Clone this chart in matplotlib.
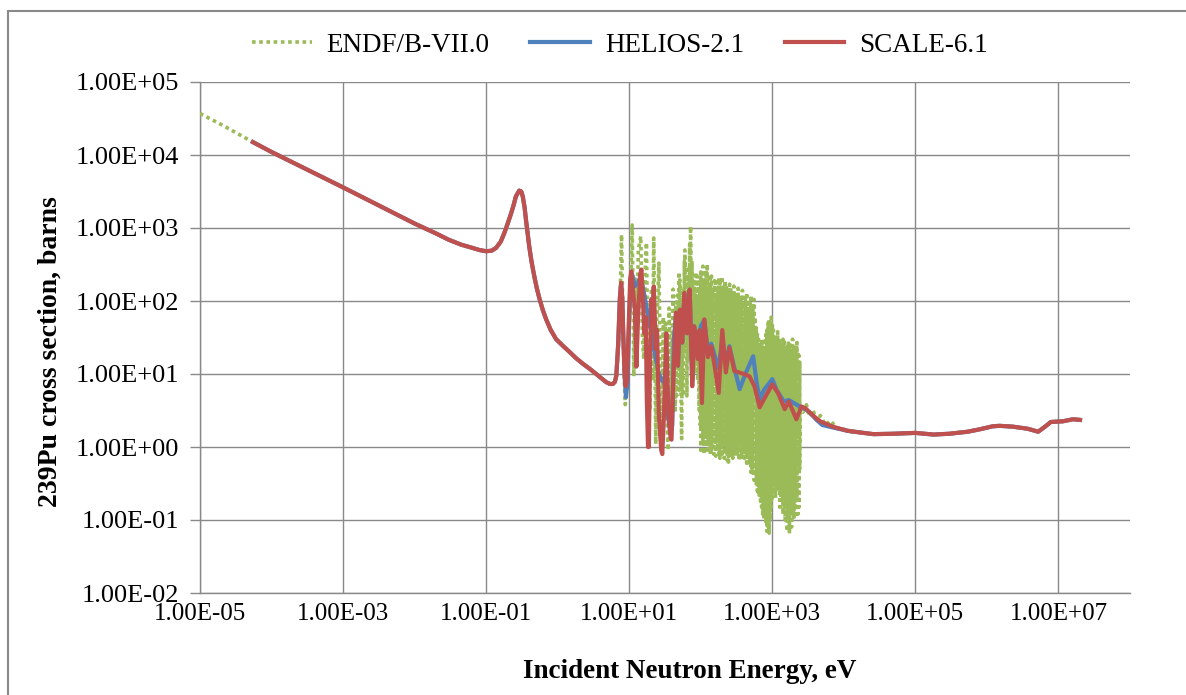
import numpy as np
import matplotlib.pyplot as plt
from matplotlib.patches import Rectangle
from matplotlib.ticker import FixedLocator, FuncFormatter, NullLocator

plt.rcParams['font.family'] = ['Liberation Serif', 'DejaVu Serif']

# ---- data: (energy eV, cross section barns) ----
# smooth thermal part shared by all three libraries
thermal = [(5.5e-5, 15000), (1e-4, 11000), (1e-3, 3600), (1e-2, 1150), (0.02, 840),
           (0.03, 690), (0.045, 590), (0.058, 550), (0.08, 500), (0.1, 480),
           (0.12, 490), (0.138, 535), (0.16, 650), (0.18, 860), (0.2, 1150),
           (0.224, 1600), (0.245, 2150), (0.26, 2700), (0.29, 3250), (0.31, 3150),
           (0.325, 2700), (0.345, 1900), (0.36, 1300), (0.38, 850), (0.40, 560),
           (0.43, 350), (0.47, 220), (0.51, 150), (0.56, 105), (0.62, 75),
           (0.69, 56), (0.8, 40), (0.95, 30), (1.2, 24), (1.47, 20), (1.8, 16.5),
           (2.25, 13.8), (2.8, 11.8), (3.45, 10), (4.1, 8.7), (4.8, 7.7),
           (5.4, 7.3), (5.9, 7.3), (6.3, 7.8), (6.6, 9.5)]

endf_low = [(1e-5, 37000), (2e-5, 26000)]

endf_resolved = [(7.3, 40), (7.8, 810), (8.4, 12), (8.8, 3.8), (9.5, 25), (10.2, 60),
                 (11.0, 1100), (11.6, 9.3), (12.2, 200), (12.8, 40), (13.4, 500),
                 (14.5, 770), (15.3, 30), (16, 16), (16.8, 300), (17.4, 630),
                 (18.3, 10), (19.5, 3.2), (20.5, 150), (21.2, 8), (22, 730),
                 (22.8, 20), (23.5, 1.1), (24.3, 60), (25, 100), (26, 330),
                 (27.5, 5), (28.5, 1.1), (30, 60), (31, 6), (32, 50), (33.5, 3),
                 (35, 0.9), (36, 80), (37, 30), (38, 6), (39, 4), (41, 145),
                 (42.5, 8), (44, 3.2), (45, 90), (46, 5), (47, 120), (48.5, 12),
                 (49.5, 250), (50.3, 6), (51, 195), (52.5, 10), (54, 1.3), (55.5, 80),
                 (56.3, 5), (57, 150), (58, 20), (59, 350), (59.6, 30), (60, 500),
                 (62, 40), (63, 200), (64, 5), (65.5, 120), (66.2, 15), (67, 300),
                 (68.5, 40), (70, 600), (71, 80), (72, 1050), (74, 50), (75.5, 350),
                 (76.5, 25), (77, 9.3), (79, 200), (80.5, 12), (82, 150), (84, 30),
                 (85, 250), (86, 20), (87.5, 120), (88, 10), (89, 220), (90.5, 8),
                 (92, 15), (93, 180), (94, 6), (95, 3.2), (97, 140), (98.5, 2)]

# dense unresolved-looking band: one column (top, bottom) per energy
dense_e = [100, 103.5, 107, 111, 115, 119, 123, 127, 132, 136,
           141, 146, 151, 156, 162, 167, 173, 179, 185, 192,
           199, 206, 213, 220, 228, 236, 244, 253, 262, 271,
           280, 290, 300, 311, 322, 333, 345, 357, 369, 382,
           395, 409, 423, 438, 453, 469, 486, 503, 520, 538,
           557, 577, 597, 618, 640, 662, 685, 709, 734, 760,
           786, 814, 842, 872, 902, 934, 966, 1000, 1035, 1071,
           1109, 1148, 1188, 1229, 1272, 1317, 1363, 1410, 1460, 1511,
           1564, 1618, 1675, 1734, 1794, 1857, 1922, 1989, 2059, 2131,
           2206, 2283, 2363, 2420]
dense_top = [250, 180, 300, 120, 190, 260, 320, 150, 170, 230,
             220, 140, 120, 190, 200, 110, 150, 210, 180, 130,
             215, 160, 130, 190, 160, 120, 110, 170, 150, 130,
             125, 160, 100, 130, 110, 150, 90, 120, 105, 140,
             85, 110, 100, 130, 80, 95, 95, 120, 70, 90,
             105, 60, 45, 35, 30, 25, 22, 30, 28, 20,
             20, 35, 40, 50, 55, 45, 60, 50, 40, 35,
             32, 28, 38, 30, 30, 25, 25, 30, 30, 22,
             22, 26, 28, 22, 25, 20, 30, 24, 22, 25,
             27, 20, 18, 15]
dense_bot = [0.9, 2.0, 1.2, 0.8, 1.5, 3.0, 0.9, 1.2, 1.5, 0.8,
             0.9, 1.4, 0.8, 1.1, 0.75, 1.3, 1.0, 0.8, 0.7, 1.2,
             0.8, 1.0, 0.7, 0.9, 1.0, 0.65, 0.62, 0.9, 0.8, 0.7,
             0.7, 1.2, 0.8, 0.9, 0.8, 1.1, 0.65, 0.9, 0.7, 0.65,
             0.9, 0.7, 1.0, 0.6, 0.8, 0.55, 0.6, 0.45, 0.5, 0.4,
             0.35, 0.4, 0.3, 0.25, 0.22, 0.2, 0.18, 0.15, 0.12, 0.1,
             0.12, 0.09, 0.07, 0.08, 0.066, 0.1, 0.15, 0.2, 0.3, 0.25,
             0.2, 0.35, 0.3, 0.25, 0.15, 0.2, 0.25, 0.12, 0.18, 0.1,
             0.2, 0.07, 0.1, 0.065, 0.15, 0.08, 0.12, 0.1, 0.15, 0.12,
             0.2, 0.12, 0.15, 0.5]

endf_tail = [(2450, 3.6), (2700, 3.0), (3000, 3.8), (3300, 2.6), (3700, 3.2),
             (4200, 2.3), (4700, 2.7), (5500, 2.0), (6500, 2.3), (8000, 1.8),
             (1e4, 1.75), (1.3e4, 1.6)]

scale_resolved = [(7.0, 25), (7.4, 110), (7.7, 178), (8.0, 110), (8.3, 29), (8.6, 10),
                  (8.9, 6.8), (9.3, 8), (9.8, 40), (10.3, 200), (10.7, 255),
                  (11.2, 150), (12, 76), (12.6, 12.6), (13.3, 60), (14.2, 230),
                  (14.8, 270), (15.5, 120), (16.2, 36), (17.0, 60), (17.6, 4.5),
                  (18.3, 1.0), (18.8, 1.0), (19.6, 20), (20.4, 105), (21, 60),
                  (22, 158), (23.5, 22), (24.5, 40), (26, 2.6), (28, 0.9), (29, 0.8),
                  (30.5, 2.6), (33, 36), (34.3, 8), (35.5, 2.6), (38, 1.3), (39, 1.26),
                  (40.5, 5), (45, 69), (48, 13), (51, 76), (55, 27), (59, 129),
                  (64, 36), (70, 144), (73, 30), (76, 6.8), (81, 45), (91, 16),
                  (96, 40), (104, 4), (112, 56), (126, 17), (140, 24), (156, 13),
                  (178, 5.5), (200, 40), (224, 10.5), (251, 23), (295, 11), (400, 10),
                  (480, 9.3), (566, 6.7), (665, 3.5), (810, 5), (1000, 7.2),
                  (1200, 5.5), (1490, 3.3), (1700, 4.2), (2170, 2.4), (2550, 3.6),
                  (2900, 3.4), (3300, 3.0), (4070, 2.5), (4700, 2.24), (7000, 1.9),
                  (1.12e4, 1.67)]

helios_resolved = [(7.0, 25), (7.4, 110), (7.7, 170), (8.0, 100), (8.3, 30), (8.7, 8),
                   (9.0, 4.8), (9.5, 8), (10.0, 60), (10.5, 200), (11, 230), (12, 160),
                   (13, 170), (14.5, 220), (16, 130), (18, 70), (20, 40), (23, 18),
                   (26, 10), (29, 8), (31, 8.5), (34, 3), (38, 1.5), (40, 2), (42, 30),
                   (45, 65), (48, 13), (51, 70), (55, 27), (59, 125), (64, 38),
                   (70, 140), (73, 30), (76, 8), (81, 45), (91, 18), (100, 45),
                   (112, 55), (126, 20), (140, 26), (156, 18), (178, 12), (200, 30),
                   (224, 14), (251, 24), (295, 12), (350, 6.2), (420, 10), (540, 17.5),
                   (600, 8), (665, 4.5), (760, 6), (1000, 8.5), (1150, 6), (1450, 4.2),
                   (1700, 4.4), (2000, 4.0), (2400, 3.6), (2900, 3.3), (3300, 3.0),
                   (4070, 2.4), (5000, 2.0), (7000, 1.85), (1.12e4, 1.67)]

# smooth fast part shared by all three libraries
fast = [(1.7e4, 1.58), (2.6e4, 1.5), (5e4, 1.52), (1e5, 1.56), (1.8e5, 1.48),
        (3e5, 1.52), (5.4e5, 1.62), (8e5, 1.75), (1.2e6, 1.92), (1.5e6, 1.95),
        (2.3e6, 1.9), (3.7e6, 1.78), (5.2e6, 1.62), (6.5e6, 1.9), (7.8e6, 2.2),
        (1.15e7, 2.25), (1.6e7, 2.4), (2e7, 2.35)]

x_ticks = [1e-5, 1e-3, 1e-1, 1e1, 1e3, 1e5, 1e7]
y_ticks = [1e-2, 1e-1, 1e0, 1e1, 1e2, 1e3, 1e4, 1e5]

# columns -> path: down each column, then up to the next one
dense = []
for e, top, bot in zip(dense_e, dense_top, dense_bot):
    dense += [(e, top), (e, bot)]

endf_e, endf_xs = zip(*(endf_low + thermal + endf_resolved + dense + endf_tail + fast))
helios_e, helios_xs = zip(*(thermal + helios_resolved + fast))
scale_e, scale_xs = zip(*(thermal + scale_resolved + fast))

# ---- figure ----
fig = plt.figure(figsize=(11.86, 6.95), dpi=100)
ax = fig.add_axes([200 / 1186, 1 - 593 / 695, 930 / 1186, 511 / 695])

grid_c = "#898989"
ax.plot(endf_e, endf_xs, color="#9BBB59", lw=2.6, linestyle=(0, (1, 1)),
        label="ENDF/B-VII.0", zorder=3)
ax.plot(helios_e, helios_xs, color="#4F81BD", lw=3.0, label="HELIOS-2.1", zorder=4)
ax.plot(scale_e, scale_xs, color="#C0504D", lw=3.0, label="SCALE-6.1", zorder=5)

ax.set_xscale("log"); ax.set_yscale("log")
ax.set_xlim(1e-5, 1e8)
ax.set_ylim(1e-2, 1e5)
ax.xaxis.set_major_locator(FixedLocator(x_ticks))
ax.yaxis.set_major_locator(FixedLocator(y_ticks))
ax.xaxis.set_minor_locator(NullLocator())
ax.yaxis.set_minor_locator(NullLocator())
fmt = FuncFormatter(lambda v, p: f"{v:.2E}")
ax.xaxis.set_major_formatter(fmt)
ax.yaxis.set_major_formatter(fmt)
ax.tick_params(axis="x", length=0, pad=7, labelsize=18)
ax.tick_params(axis="y", length=7, width=1, color=grid_c, pad=8, labelsize=19)
ax.grid(True, color=grid_c, lw=1)
ax.set_axisbelow(True)
for s in ("top", "right"):
    ax.spines[s].set_visible(False)
for s in ("left", "bottom"):
    ax.spines[s].set_color(grid_c)
    ax.spines[s].set_linewidth(1)

fig.text(690 / 1186, 1 - 672 / 695, "Incident Neutron Energy, eV", ha="center",
         va="center", fontsize=19.5, fontweight="bold")
fig.text(50 / 1186, 1 - 352 / 695, "239Pu cross section, barns", ha="center",
         va="center", rotation=90, fontsize=20, fontweight="bold")

fig.legend(loc="center", bbox_to_anchor=(620 / 1186, 1 - 45 / 695), ncol=3,
           frameon=False, fontsize=19.5, handlelength=2.2, handletextpad=0.55,
           columnspacing=1.5)

# outer chart border (left and top visible, rest runs off the picture)
fig.patches.append(Rectangle((8 / 1186, -0.1), 1.2, 1 - 11 / 695 + 0.1,
                             transform=fig.transFigure, fill=False,
                             edgecolor="#898989", lw=1.5))

fig.savefig("out.png", dpi=100)
